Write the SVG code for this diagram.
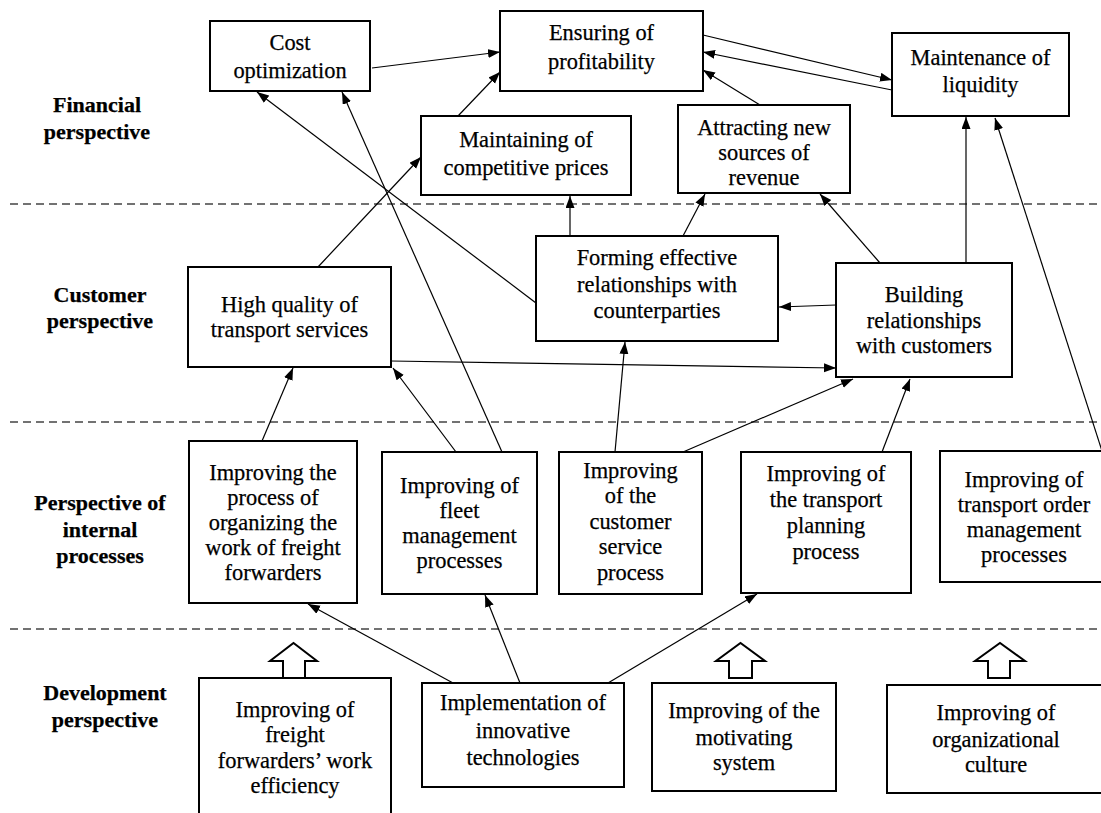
<svg xmlns="http://www.w3.org/2000/svg" width="1101" height="813" viewBox="0 0 1101 813">
<style>
.box{fill:#fff;stroke:#000;stroke-width:2}
.c{stroke:#000;stroke-width:1.2;fill:none;marker-end:url(#ah)}
.dash{stroke:#444;stroke-width:1.3;stroke-dasharray:8,5}
.hollow{fill:#fff;stroke:#000;stroke-width:2;stroke-linejoin:miter}
text{font-family:"Liberation Serif","Times New Roman",serif;text-anchor:middle;fill:#000;stroke:#000;stroke-width:0.25}
</style>
<defs>
<marker id="ah" markerUnits="userSpaceOnUse" markerWidth="13" markerHeight="10" refX="12" refY="4.5" orient="auto">
<path d="M0,0 L12,4.5 L0,9 z" fill="#000"/>
</marker>
</defs>
<rect width="1101" height="813" fill="#fff"/>
<g id="separators">
<line class="dash" x1="10" y1="204" x2="1101" y2="204"/>
<line class="dash" x1="10" y1="422" x2="1101" y2="422"/>
<line class="dash" x1="10" y1="629" x2="1101" y2="629"/>
</g>
<g id="labels" font-size="22" font-weight="bold">
<text x="97" y="112">Financial</text>
<text x="97" y="139">perspective</text>
<text x="100" y="302">Customer</text>
<text x="100" y="328">perspective</text>
<text x="100" y="510">Perspective of</text>
<text x="100" y="537">internal</text>
<text x="100" y="563">processes</text>
<text x="105" y="700">Development</text>
<text x="105" y="727">perspective</text>
</g>
<g id="connectors">
<line class="c" x1="372" y1="68" x2="500" y2="52"/>
<line class="c" x1="458" y1="116" x2="500" y2="72"/>
<line class="c" x1="703" y1="35" x2="892" y2="80"/>
<line class="c" x1="892" y1="90" x2="703" y2="52"/>
<line class="c" x1="760" y1="105" x2="703" y2="70"/>
<line class="c" x1="966" y1="263" x2="966" y2="117"/>
<line class="c" x1="1102" y1="451" x2="995" y2="118"/>
<line class="c" x1="318" y1="267" x2="421" y2="157"/>
<line class="c" x1="536" y1="303" x2="257" y2="92"/>
<line class="c" x1="502" y1="452" x2="342" y2="92"/>
<line class="c" x1="570" y1="236" x2="570" y2="196"/>
<line class="c" x1="683" y1="236" x2="705" y2="194"/>
<line class="c" x1="880" y1="263" x2="820" y2="194"/>
<line class="c" x1="836" y1="305" x2="779" y2="307"/>
<line class="c" x1="391" y1="361" x2="836" y2="368"/>
<line class="c" x1="262" y1="441" x2="293" y2="368"/>
<line class="c" x1="456" y1="452" x2="393" y2="368"/>
<line class="c" x1="615" y1="452" x2="625" y2="342"/>
<line class="c" x1="683" y1="452" x2="853" y2="379"/>
<line class="c" x1="882" y1="452" x2="910" y2="379"/>
<line class="c" x1="453" y1="683" x2="308" y2="604"/>
<line class="c" x1="520" y1="683" x2="485" y2="595"/>
<line class="c" x1="608" y1="683" x2="757" y2="594"/>
<polygon class="hollow" points="283,678 283,661 270,661 293.5,643 317,661 305,661 305,678"/>
<polygon class="hollow" points="729,678 729,661 716,661 740.5,643 765,661 752,661 752,678"/>
<polygon class="hollow" points="988,678 988,661 975,661 1000,643 1025,661 1010,661 1010,678"/>
</g>
<g id="nodes" font-size="22.4">
<g id="n-cost">
<rect class="box" x="210" y="21" width="160" height="70"/>
<text x="290" y="50">Cost</text>
<text x="290" y="78">optimization</text>
</g>
<g id="n-ensuring">
<rect class="box" x="500" y="11" width="203" height="80"/>
<text x="601.5" y="40">Ensuring of</text>
<text x="601.5" y="69">profitability</text>
</g>
<g id="n-liquidity">
<rect class="box" x="892" y="33" width="177" height="83"/>
<text x="980.5" y="65">Maintenance of</text>
<text x="980.5" y="92">liquidity</text>
</g>
<g id="n-prices">
<rect class="box" x="421" y="116" width="210" height="79"/>
<text x="526" y="147">Maintaining of</text>
<text x="526" y="175">competitive prices</text>
</g>
<g id="n-revenue">
<rect class="box" x="678" y="105" width="172" height="88"/>
<text x="764" y="135">Attracting new</text>
<text x="764" y="160">sources of</text>
<text x="764" y="185">revenue</text>
</g>
<g id="n-quality">
<rect class="box" x="188" y="267" width="203" height="100"/>
<text x="289.5" y="312">High quality of</text>
<text x="289.5" y="337">transport services</text>
</g>
<g id="n-counterparties">
<rect class="box" x="536" y="236" width="242" height="105"/>
<text x="657" y="265">Forming effective</text>
<text x="657" y="292">relationships with</text>
<text x="657" y="318">counterparties</text>
</g>
<g id="n-customers">
<rect class="box" x="836" y="263" width="176" height="114"/>
<text x="924" y="302">Building</text>
<text x="924" y="328">relationships</text>
<text x="924" y="353">with customers</text>
</g>
<g id="n-forwarders-process">
<rect class="box" x="189" y="441" width="168" height="162"/>
<text x="273" y="480">Improving the</text>
<text x="273" y="505">process of</text>
<text x="273" y="530">organizing the</text>
<text x="273" y="555">work of freight</text>
<text x="273" y="580">forwarders</text>
</g>
<g id="n-fleet">
<rect class="box" x="382" y="452" width="155" height="142"/>
<text x="459.5" y="493">Improving of</text>
<text x="459.5" y="518">fleet</text>
<text x="459.5" y="543">management</text>
<text x="459.5" y="568">processes</text>
</g>
<g id="n-service">
<rect class="box" x="559" y="452" width="143" height="142"/>
<text x="630.5" y="478">Improving</text>
<text x="630.5" y="503">of the</text>
<text x="630.5" y="529">customer</text>
<text x="630.5" y="554">service</text>
<text x="630.5" y="580">process</text>
</g>
<g id="n-planning">
<rect class="box" x="741" y="452" width="170" height="141"/>
<text x="826" y="481">Improving of</text>
<text x="826" y="507">the transport</text>
<text x="826" y="533">planning</text>
<text x="826" y="559">process</text>
</g>
<g id="n-orders">
<rect class="box" x="940" y="451" width="168" height="131"/>
<text x="1024" y="487">Improving of</text>
<text x="1024" y="512">transport order</text>
<text x="1024" y="537">management</text>
<text x="1024" y="562">processes</text>
</g>
<g id="n-efficiency">
<rect class="box" x="199" y="678" width="192" height="150"/>
<text x="295" y="717">Improving of</text>
<text x="295" y="742">freight</text>
<text x="295" y="768">forwarders’ work</text>
<text x="295" y="793">efficiency</text>
</g>
<g id="n-innovation">
<rect class="box" x="422" y="683" width="202" height="104"/>
<text x="523" y="710">Implementation of</text>
<text x="523" y="738">innovative</text>
<text x="523" y="765">technologies</text>
</g>
<g id="n-motivation">
<rect class="box" x="652" y="683" width="184" height="108"/>
<text x="744" y="718">Improving of the</text>
<text x="744" y="745">motivating</text>
<text x="744" y="770">system</text>
</g>
<g id="n-culture">
<rect class="box" x="887" y="685" width="218" height="108"/>
<text x="996" y="720">Improving of</text>
<text x="996" y="747">organizational</text>
<text x="996" y="772">culture</text>
</g>
</g>
</svg>
